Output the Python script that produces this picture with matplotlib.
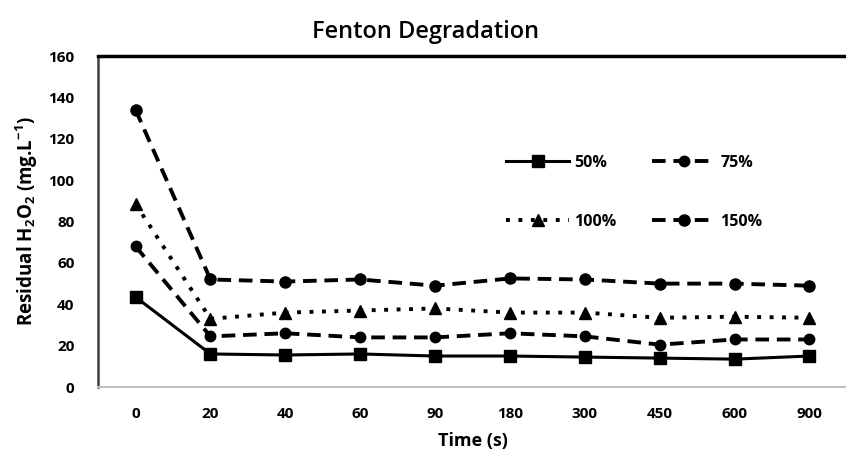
import matplotlib
matplotlib.use("Agg")
import matplotlib.pyplot as plt

plt.rcParams['font.family'] = ['Open Sans', 'DejaVu Sans']
plt.rcParams['mathtext.fontset'] = 'custom'
plt.rcParams['mathtext.rm'] = 'Open Sans:bold'
plt.rcParams['mathtext.bf'] = 'Open Sans:bold'
plt.rcParams['mathtext.default'] = 'bf'

# data
times = ["0", "20", "40", "60", "90", "180", "300", "450", "600", "900"]
s50 = [43.5, 16, 15.5, 16, 15, 15, 14.5, 14, 13.5, 15]
s75 = [68, 24.5, 26, 24, 24, 26, 24.5, 20.5, 23, 23]
s100 = [88.5, 33, 36, 37, 38, 36, 36, 33.5, 34, 33.5]
s150 = [134, 52, 51, 52, 49, 52.5, 52, 50, 50, 49]

fig = plt.figure(figsize=(8.46, 4.63), dpi=100)
ax = fig.add_axes([0.116, 0.164, 0.885, 0.715])
x = list(range(len(times)))

l50, = ax.plot(x, s50, color='black', lw=2.2, ls='-', marker='s', ms=8, label='50%')
l75, = ax.plot(x, s75, color='black', lw=2.8, ls=(0, (3.5, 2)), marker='o', ms=7.5, label='75%')
l100, = ax.plot(x, s100, color='black', lw=2.8, ls=(0, (1, 2.2)), marker='^', ms=8, label='100%')
l150, = ax.plot(x, s150, color='black', lw=2.8, ls=(0, (3.5, 2)), marker='o', ms=8, label='150%')

ax.set_xlim(-0.5, 9.5)
ax.set_ylim(0, 160)
ax.set_yticks(range(0, 161, 20))
ax.set_xticks(x)
ax.set_xticklabels(times)
ax.tick_params(length=0, labelsize=11, pad=14)
ax.tick_params(axis='y', pad=17)
for lab in ax.get_xticklabels() + ax.get_yticklabels():
    lab.set_fontweight('bold')

ax.spines['right'].set_visible(False)
ax.spines['top'].set_linewidth(2.5)
ax.spines['top'].set_color('black')
ax.spines['left'].set_linewidth(1.8)
ax.spines['left'].set_color('#404040')
ax.spines['bottom'].set_linewidth(1.5)
ax.spines['bottom'].set_color('#bfbfbf')

ax.set_title("Fenton Degradation", fontsize=17, fontweight='semibold', pad=13, x=0.437)
ax.set_xlabel("Time (s)", fontsize=13, fontweight='bold', labelpad=8)
ax.set_ylabel(r"Residual H$_2$O$_2$ (mg.L$^{-1}$)", fontsize=13.5,
              fontweight='bold', labelpad=6)

# legend fills columns first, so order the handles to get 50/75 on row one
leg = ax.legend([l50, l100, l75, l150], ['50%', '100%', '75%', '150%'],
                ncol=2, frameon=False, loc='upper left',
                bbox_to_anchor=(0.525, 0.745),
                handlelength=4.0, columnspacing=2.2, labelspacing=2.7,
                handletextpad=0.3, prop={'weight': 'bold', 'size': 11.5})

fig.savefig("out.png", dpi=100)
